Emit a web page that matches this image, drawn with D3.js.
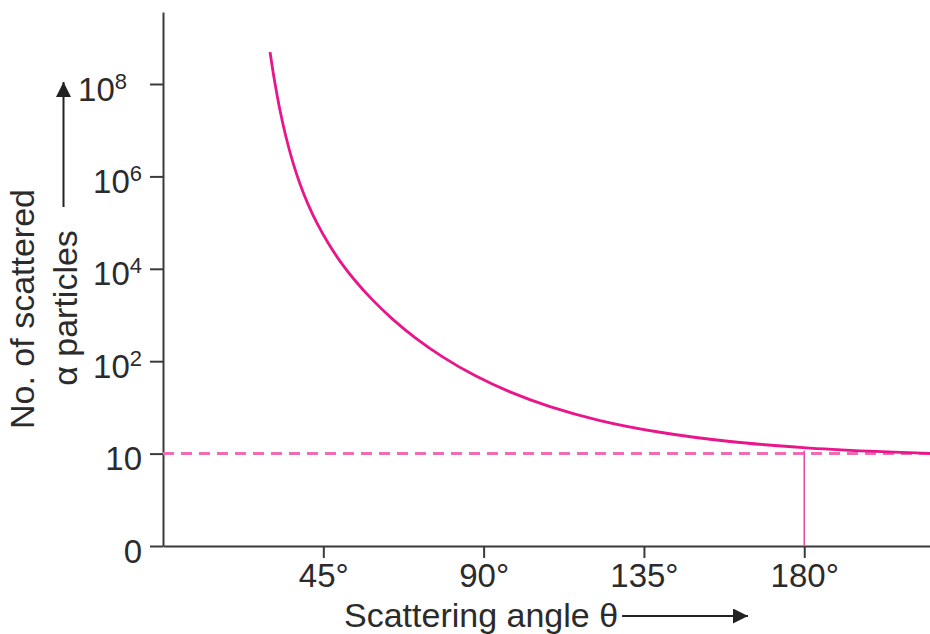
<!DOCTYPE html>
<html>
<head>
<meta charset="utf-8">
<script src="https://cdn.jsdelivr.net/npm/d3@7"></script>
<style>
  body { margin: 0; background: #fff; }
  text { font-family: "Liberation Sans", Arial, Helvetica, sans-serif; fill: #2b2b2b; }
</style>
</head>
<body>
<div id="chart"></div>
<script>
// angle in degrees, count as log10 (0 label sits at log 0)
const angles = [30.04, 31.44, 32.84, 34.53, 36.49, 38.46, 40.70, 43.23, 46.32, 49.68, 53.90, 58.67, 64.28, 70.74, 78.60, 87.58, 97.40, 108.63, 122.67, 139.51, 159.16, 179.65, 198.46, 215.30];
const logCounts = [8.693, 8.009, 7.433, 6.853, 6.297, 5.835, 5.400, 4.987, 4.563, 4.167, 3.747, 3.338, 2.922, 2.511, 2.089, 1.845, 1.668, 1.509, 1.358, 1.231, 1.131, 1.065, 1.026, 1.003];

const yTicks = [0, 1, 2, 4, 6, 8];
const yTickBase = ["0", "10", "10", "10", "10", "10"];
const yTickSup = ["", "", "2", "4", "6", "8"];
const xTicks = [45, 90, 135, 180];

const levelLine = 1;      // the "10" reference
const markAngle = 180;

const width = 930, height = 634;
const pink = "#e9168b";

const svg = d3.select("#chart")
    .append("svg")
    .attr("width", width)
    .attr("height", height);

// x: 0 deg at the y axis, runs off the right edge
let x = d3.scaleLinear()
    .domain([0, 215.3])
    .range([163, 930]);

// y ticks are equally spaced, so the scale is piecewise
let y = d3.scaleLinear()
    .domain([0, 1, 2, 4, 6, 8, 9.56])
    .range([546, 453.6, 361.2, 268.8, 176.4, 84, 12]);

// y axis
let yAxis = svg.append("g")
    .attr("transform", "translate(163,0)")
    .call(d3.axisLeft(y)
        .tickValues(yTicks)
        .tickSize(13)
        .tickSizeOuter(0)
        .tickPadding(8)
        .tickFormat(""));

yAxis.selectAll("text").remove();
yAxis.selectAll(".tick").each(function(d, i) {
    let t = d3.select(this).append("text")
        .attr("x", d === 8 ? -36 : -21)
        .attr("dy", "16px")
        .attr("text-anchor", "end")
        .style("font-size", "33px");
    t.append("tspan").text(yTickBase[i]);
    if (yTickSup[i]) {
        t.append("tspan")
            .attr("dy", "-12px")
            .style("font-size", "22px")
            .text(yTickSup[i]);
    }
});

// x axis
let xAxis = svg.append("g")
    .attr("transform", `translate(0,${y(0)})`)
    .call(d3.axisBottom(x)
        .tickValues(xTicks)
        .tickSize(12)
        .tickSizeOuter(0)
        .tickPadding(6)
        .tickFormat(d => d + "°"));

xAxis.selectAll("text")
    .style("font-size", "33px")
    .attr("fill", "#2b2b2b");

svg.selectAll(".domain, .tick line")
    .attr("stroke", "#3a3a3a")
    .attr("stroke-width", 2);

// dashed level at 10
svg.append("line")
    .attr("x1", x(0)).attr("x2", width)
    .attr("y1", y(levelLine)).attr("y2", y(levelLine))
    .attr("stroke", "#f06db5")
    .attr("stroke-width", 3)
    .attr("stroke-dasharray", "11,7");

// drop line at 180 deg
svg.append("line")
    .attr("x1", x(markAngle)).attr("x2", x(markAngle))
    .attr("y1", y(levelLine) - 3).attr("y2", y(0))
    .attr("stroke", "#ee4ca4")
    .attr("stroke-width", 1.6);

// curve
let line = d3.line()
    .x(d => x(d[0]))
    .y(d => y(d[1]))
    .curve(d3.curveCatmullRom.alpha(0.5));

svg.append("path")
    .datum(d3.zip(angles, logCounts))
    .attr("d", line)
    .attr("fill", "none")
    .attr("stroke", pink)
    .attr("stroke-width", 2.8);

// arrow head marker
svg.append("defs").append("marker")
    .attr("id", "arrow")
    .attr("viewBox", "0 0 10 10")
    .attr("refX", 10).attr("refY", 5)
    .attr("markerUnits", "userSpaceOnUse")
    .attr("markerWidth", 21).attr("markerHeight", 15)
    .attr("orient", "auto")
    .append("path")
    .attr("d", "M0,0 L10,5 L0,10 Z")
    .attr("fill", "#222");

// x title + arrow
let xTitle = svg.append("text")
    .attr("x", 344)
    .attr("y", 627)
    .style("font-size", "34px")
    .text("Scattering angle θ");

let xEnd = 344 + xTitle.node().getComputedTextLength() + 4;
svg.append("line")
    .attr("x1", xEnd).attr("x2", 748)
    .attr("y1", 616).attr("y2", 616)
    .attr("stroke", "#222")
    .attr("stroke-width", 2)
    .attr("marker-end", "url(#arrow)");

// y title, two lines + arrow
svg.append("text")
    .attr("transform", "translate(34,309) rotate(-90)")
    .attr("text-anchor", "middle")
    .style("font-size", "34px")
    .text("No. of scattered");

svg.append("text")
    .attr("transform", "translate(77,308) rotate(-90)")
    .attr("text-anchor", "middle")
    .style("font-size", "34px")
    .text("α particles");

svg.append("line")
    .attr("x1", 63.5).attr("x2", 63.5)
    .attr("y1", 207).attr("y2", 82)
    .attr("stroke", "#222")
    .attr("stroke-width", 2)
    .attr("marker-end", "url(#arrow)");
</script>
</body>
</html>
